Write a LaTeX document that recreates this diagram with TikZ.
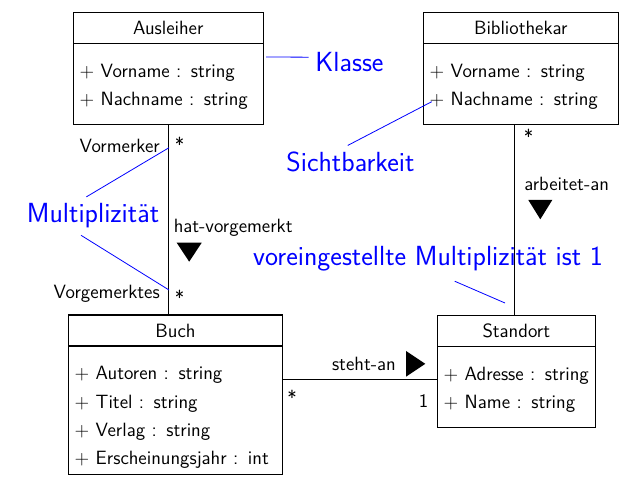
\documentclass[tikz,border=0pt]{standalone}
\usepackage{tikz}
\usetikzlibrary{positioning}
\renewcommand{\familydefault}{\sfdefault}
\definecolor{noteblue}{RGB}{0, 0, 255}
\newcommand{\attr}[2]{\mbox{$+$ #1 : #2}}

\begin{document}
\begin{tikzpicture}[x=0.75pt, y=-0.75pt,
  clsname/.style={draw, line width=0.8pt, outer sep=0pt, minimum height=23.25pt, font=\fontsize{14.4}{17}\selectfont},
  clsattr/.style={draw, line width=0.8pt, outer sep=0pt, inner xsep=4.8pt, align=left, text height=10.3pt, font=\fontsize{14.4}{21.2}\selectfont},
  lbl/.style={inner sep=0pt, font=\fontsize{14.4}{17}\selectfont},
  note/.style={text=noteblue, inner sep=5pt, font=\fontsize{20.74}{25}\selectfont},
  noteline/.style={draw=noteblue, line width=0.6pt}
]
  \useasboundingbox (0,0) rectangle (629,491);

  % Klassen
  \node[clsname, minimum width=142.5pt] (aus) at (168.3, 27.8) {Ausleiher};
  \node[clsattr, below=0pt of aus, minimum width=142.5pt, minimum height=60.75pt, text width=132.9pt, text depth=20.25pt] (ausattr) {
    \attr{Vorname}{string}\\
    \attr{Nachname}{string}
  };

  \node[clsname, minimum width=146.25pt] (bib) at (520.8, 27.8) {Bibliothekar};
  \node[clsattr, below=0pt of bib, minimum width=146.25pt, minimum height=60.75pt, text width=136.65pt, text depth=20.25pt] (bibattr) {
    \attr{Vorname}{string}\\
    \attr{Nachname}{string}
  };

  \node[clsname, minimum width=160.8pt] (buch) at (175.5, 330.5) {Buch};
  \node[clsattr, below=0pt of buch, minimum width=160.8pt, minimum height=96.2pt, text width=151.2pt, text depth=55.7pt] (buchattr) {
    \attr{Autoren}{string}\\
    \attr{Titel}{string}\\
    \attr{Verlag}{string}\\
    \attr{Erscheinungsjahr}{int}
  };

  \node[clsname, minimum width=118.5pt] (std) at (516.3, 331) {Standort};
  \node[clsattr, below=0pt of std, minimum width=118.5pt, minimum height=60.5pt, text width=108.9pt, text depth=20pt] (stdattr) {
    \attr{Adresse}{string}\\
    \attr{Name}{string}
  };

  % Assoziationen
  \draw[line width=0.8pt] (ausattr.south) -- (ausattr.south |- buch.north);
  \coordinate (arb) at ([xshift=-1.6pt]std.north);
  \draw[line width=0.8pt] (arb) -- (arb |- bibattr.south);
  \coordinate (steh) at ([yshift=5.5pt]stdattr.west);
  \draw[line width=0.8pt] (steh) -- (steh -| buchattr.east);

  \node[lbl, anchor=base east] (vormerker) at (160, 153) {Vormerker};
  \node[lbl, anchor=base west] (multaus) at (174.5, 152) {*};
  \node[lbl, anchor=base west] (hatvor) at (173.5, 233) {hat-vorgemerkt};
  \fill (176.7,242.7) -- (201.7,242.7) -- (189.2,261.7) -- cycle;
  \node[lbl, anchor=base east] (vorgemerktes) at (160, 299) {Vorgemerktes};
  \node[lbl, anchor=base west] (multbuch) at (174.5, 305) {*};

  \node[lbl, anchor=base west] (multbib) at (523.5, 144) {*};
  \node[lbl, anchor=base west] (arbeitet) at (524, 191) {arbeitet-an};
  \fill (528.3,200) -- (552.3,200) -- (540.3,219.3) -- cycle;

  \node[lbl, anchor=base east] (steht) at (396, 371) {steht-an};
  \fill (406,351) -- (406,376.7) -- (425.3,363.8) -- cycle;
  \node[lbl, anchor=base west] (multsteh) at (287, 405) {*};
  \node[lbl, anchor=base east] (multstd) at (428.5, 408) {1};

  % Anmerkungen
  \node[note, anchor=base west] (klasse) at (308.5, 72) {Klasse};
  \node[note, anchor=base west] (sicht) at (279.5, 172) {Sichtbarkeit};
  \node[note, anchor=base west] (multi) at (20, 223) {Multiplizität};
  \node[note, anchor=base west] (vorein) at (246.3, 266) {voreingestellte Multiplizität ist 1};

  \coordinate (clsref) at (266, 57);
  \coordinate (visref) at (431.7, 101.7);
  \coordinate (multref1) at (169, 147.7);
  \coordinate (multref2) at (169, 290);
  \coordinate (voreinref) at (505, 303);

  \draw[noteline] ([yshift=4pt]klasse.west) -- (clsref);
  \draw[noteline] ([xshift=-2pt]sicht.north) -- (visref);
  \draw[noteline] ([xshift=-5pt]multi.north) -- (multref1);
  \draw[noteline] ([xshift=-9pt]multi.south) -- (multref2);
  \draw[noteline] ([xshift=20pt, yshift=-2pt]vorein.south) -- (voreinref);
\end{tikzpicture}
\end{document}
